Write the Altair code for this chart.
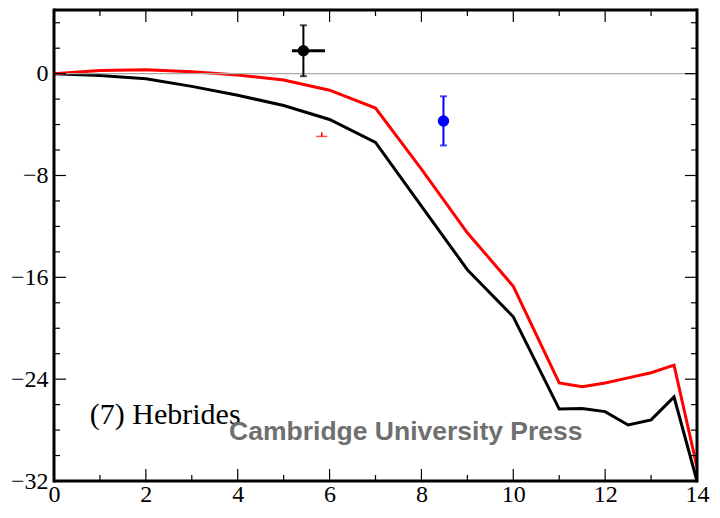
import altair as alt
import pandas as pd

x_model = [0, 1, 2, 3, 4, 5, 6, 7, 8, 9, 10, 11, 11.5, 12, 12.5, 13, 13.5, 14]
black_line = [0, -0.15, -0.4, -1.0, -1.7, -2.5, -3.6, -5.4, -10.4, -15.4, -19.1, -26.35, -26.3, -26.55, -27.6, -27.2, -25.4, -32]
red_line = [0, 0.25, 0.3, 0.15, -0.1, -0.5, -1.3, -2.7, -7.5, -12.5, -16.7, -24.3, -24.6, -24.3, -23.9, -23.5, -22.9, -30.9]

# observations
obs_x = [5.43, 8.48]
obs_y = [1.8, -3.72]
obs_ylo = [-0.2, -5.64]
obs_yhi = [3.8, -1.78]
obs_xlo = [5.18, 8.48]
obs_xhi = [5.9, 8.48]
obs_color = ["black", "blue"]

lim_x = [5.83]
lim_y = [-4.93]
lim_top = [-4.6]

x_major = [0, 2, 4, 6, 8, 10, 12, 14]
x_minor = [1, 3, 5, 7, 9, 11, 13]
y_major = [0, -8, -16, -24, -32]
y_minor = [4, 2, -2, -4, -6, -10, -12, -14, -18, -20, -22, -26, -28, -30]

W, H = 643, 471
SERIF = "Liberation Serif"
xs = alt.Scale(domain=[0, 14], nice=False, zero=False)
ys = alt.Scale(domain=[-32, 5], nice=False, zero=False)

XAX = alt.Axis(values=x_major, title=None, labelFont=SERIF,
               labelFontSize=24, labelPadding=1, labelColor="black",
               domain=False, ticks=False, grid=False,
               labelOverlap=False, labelFlush=False, labelBound=False)
YAX = alt.Axis(values=y_major, title=None, labelFont=SERIF,
               labelFontSize=24, labelPadding=6, labelColor="black",
               domain=False, ticks=False, grid=False,
               labelOverlap=False, labelFlush=False, labelBound=False,
               labelExpr="datum.value < 0 ? '\u2212' + abs(datum.value) : datum.label")


def ex(f):
    return alt.X(f, type="quantitative", scale=xs, axis=XAX)


def ey(f):
    return alt.Y(f, type="quantitative", scale=ys, axis=YAX)


df_lines = pd.DataFrame({
    "x": x_model * 2,
    "y": black_line + red_line,
    "s": ["black"] * len(x_model) + ["red"] * len(x_model),
})

df_obs = pd.DataFrame({"x": obs_x, "y": obs_y, "ylo": obs_ylo, "yhi": obs_yhi,
                       "xlo": obs_xlo, "xhi": obs_xhi, "c": obs_color})
df_lim = pd.DataFrame({"x": lim_x, "y": lim_y, "top": lim_top})

lines = alt.Chart(df_lines).mark_line(strokeWidth=3).encode(
    x=ex("x"), y=ey("y"),
    color=alt.Color("s:N", scale=alt.Scale(domain=["black", "red"], range=["black", "#ff0000"]), legend=None),
    detail="s:N")

zero = alt.Chart(pd.DataFrame({"y": [0]})).mark_rule(color="#aaaaaa", strokeWidth=1.2).encode(
    y=ey("y"))

vbar = alt.Chart(df_obs).mark_rule(strokeWidth=2).encode(
    x=ex("x"), y=ey("ylo"), y2="yhi:Q", color=alt.Color("c:N", scale=None))
hbar = alt.Chart(df_obs).mark_rule(strokeWidth=3).encode(
    x=ex("xlo"), x2="xhi:Q", y=ey("y"), color=alt.Color("c:N", scale=None))
cap_lo = alt.Chart(df_obs).mark_tick(orient="horizontal", size=7, thickness=2).encode(
    x=ex("x"), y=ey("ylo"), color=alt.Color("c:N", scale=None))
cap_hi = alt.Chart(df_obs).mark_tick(orient="horizontal", size=7, thickness=2).encode(
    x=ex("x"), y=ey("yhi"), color=alt.Color("c:N", scale=None))
pts = alt.Chart(df_obs).mark_circle(size=130, opacity=1).encode(
    x=ex("x"), y=ey("y"), color=alt.Color("c:N", scale=None))

lim_v = alt.Chart(df_lim).mark_rule(color="#ff0000", strokeWidth=1.5).encode(
    x=ex("x"), y=ey("y"), y2="top:Q")
lim_h = alt.Chart(df_lim).mark_tick(orient="horizontal", size=11, thickness=1.5, color="#ff0000").encode(
    x=ex("x"), y=ey("y"))


# inward ticks on all four sides
def xticks(vals, length):
    d = pd.DataFrame({"x": vals})
    b = alt.Chart(d).mark_rule(color="black", strokeWidth=1.2).encode(
        x=ex("x"), y=alt.value(H), y2=alt.value(H - length))
    t = alt.Chart(d).mark_rule(color="black", strokeWidth=1.2).encode(
        x=ex("x"), y=alt.value(0), y2=alt.value(length))
    return [b, t]


def yticks(vals, length):
    d = pd.DataFrame({"y": vals})
    l = alt.Chart(d).mark_rule(color="black", strokeWidth=1.2).encode(
        y=ey("y"), x=alt.value(0), x2=alt.value(length))
    r = alt.Chart(d).mark_rule(color="black", strokeWidth=1.2).encode(
        y=ey("y"), x=alt.value(W), x2=alt.value(W - length))
    return [l, r]


ticks = xticks(x_major, 12) + xticks(x_minor, 6) + yticks(y_major, 12) + yticks(y_minor, 6)

frame_df = pd.DataFrame({"k": [0]})
frame = [
    alt.Chart(frame_df).mark_rule(color="black", strokeWidth=3).encode(
        x=alt.value(0), x2=alt.value(W), y=alt.value(0)),
    alt.Chart(frame_df).mark_rule(color="black", strokeWidth=3).encode(
        x=alt.value(0), x2=alt.value(W), y=alt.value(H)),
    alt.Chart(frame_df).mark_rule(color="black", strokeWidth=3).encode(
        y=alt.value(-1.5), y2=alt.value(H + 1.5), x=alt.value(0)),
    alt.Chart(frame_df).mark_rule(color="black", strokeWidth=3).encode(
        y=alt.value(-1.5), y2=alt.value(H + 1.5), x=alt.value(W)),
]

label = alt.Chart(pd.DataFrame({"x": [0.78], "y": [-26.8], "t": ["(7) Hebrides"]})).mark_text(
    align="left", baseline="middle", font=SERIF, fontSize=30, color="black").encode(
    x=ex("x"), y=ey("y"), text="t:N")
wm = alt.Chart(pd.DataFrame({"x": [7.66], "y": [-28.15], "t": ["Cambridge University Press"]})).mark_text(
    align="center", baseline="middle", font="Liberation Sans", fontSize=26.5, fontWeight="bold",
    color="#6f6f6f").encode(
    x=ex("x"), y=ey("y"), text="t:N")

chart = alt.layer(lines, zero, *ticks, lim_v, lim_h, hbar, vbar, cap_lo, cap_hi, pts, *frame, label, wm).properties(
    width=W, height=H,
    background="white",
    autosize=alt.AutoSizeParams(type="none"),
    padding={"left": 46, "top": 2, "right": 15, "bottom": 30},
).configure_view(stroke=None).configure_axis(
    labelFont=SERIF, labelFontSize=24, labelColor="black",
)

chart.save("out.html", embed_options={"renderer": "svg", "actions": False})
